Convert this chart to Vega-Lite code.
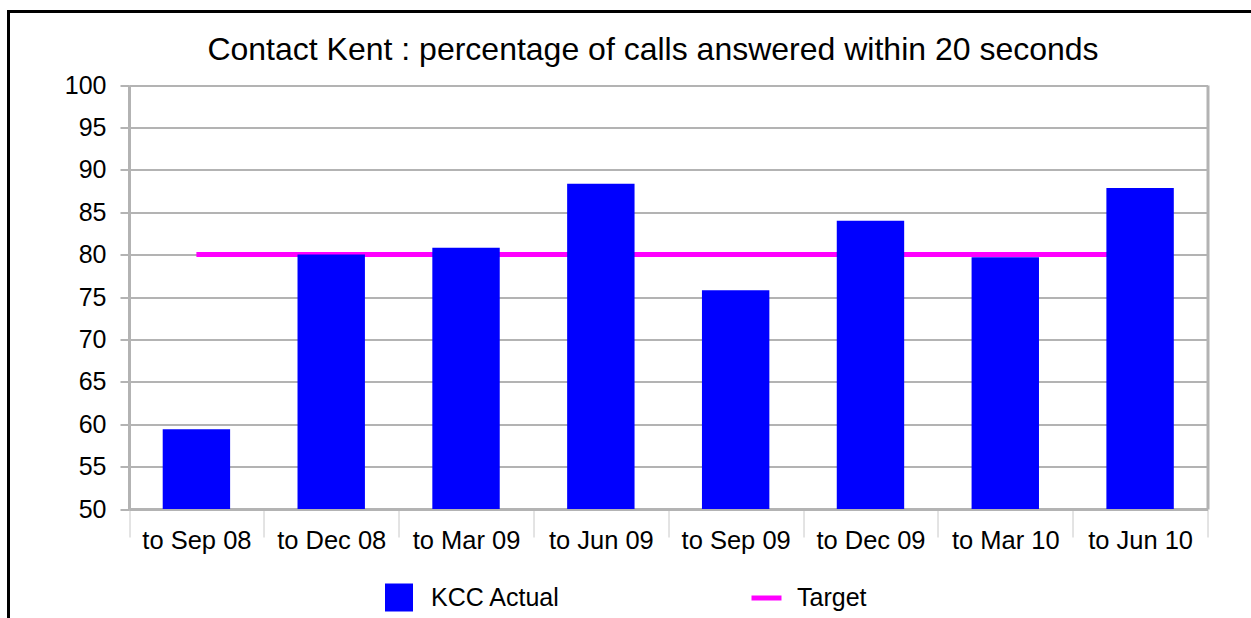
{
  "$schema": "https://vega.github.io/schema/vega-lite/v6.json",
  "width": 1289,
  "height": 700,
  "autosize": {"type": "none"},
  "padding": {"left": 8.5, "top": 11.5, "right": 0, "bottom": 0},
  "background": "white",
  "title": {
    "text": "Contact Kent : percentage of calls answered within 20 seconds",
    "fontSize": 32,
    "font": "Liberation Sans",
    "fontWeight": "normal",
    "color": "#000000",
    "anchor": "middle",
    "frame": "group",
    "baseline": "alphabetic",
    "offset": 0,
    "dy": 80.5
  },
  "config": {
    "font": "Liberation Sans",
    "view": {"stroke": "#000000", "strokeWidth": 3, "fill": "white"}
  },
  "data": {
    "values": [
      {"period": "to Sep 08", "actual": 59.4, "target": 80},
      {"period": "to Dec 08", "actual": 80.0, "target": 80},
      {"period": "to Mar 09", "actual": 80.8, "target": 80},
      {"period": "to Jun 09", "actual": 88.35, "target": 80},
      {"period": "to Sep 09", "actual": 75.8, "target": 80},
      {"period": "to Dec 09", "actual": 84.0, "target": 80},
      {"period": "to Mar 10", "actual": 79.7, "target": 80},
      {"period": "to Jun 10", "actual": 87.85, "target": 80}
    ]
  },
  "encoding": {
    "x": {
      "field": "period",
      "type": "nominal",
      "sort": null,
      "scale": {"range": [120.5, 1199], "paddingInner": 0, "paddingOuter": 0},
      "axis": {
        "title": null,
        "orient": "bottom",
        "offset": -202.5,
        "labelAngle": 0,
        "labelFontSize": 25.5,
        "labelColor": "#000000",
        "labelPadding": -9,
        "tickBand": "extent",
        "tickSize": 28,
        "tickWidth": 1,
        "tickColor": "#c8c8c8",
        "domainColor": "#b3b3b3",
        "domainWidth": 3,
        "grid": false
      }
    }
  },
  "layer": [
    {
      "mark": {"type": "line", "strokeWidth": 5},
      "encoding": {
        "y": {
          "field": "target",
          "type": "quantitative",
          "scale": {"domain": [50, 100], "range": [497.5, 73.5], "nice": false, "zero": false},
          "axis": {
            "title": null,
            "orient": "left",
            "offset": -120.5,
            "values": [50, 55, 60, 65, 70, 75, 80, 85, 90, 95, 100],
            "labelFontSize": 25,
            "labelColor": "#000000",
            "labelPadding": 14,
            "tickSize": 9,
            "tickWidth": 2,
            "tickColor": "#b3b3b3",
            "domainColor": "#b3b3b3",
            "domainWidth": 3,
            "grid": true,
            "gridColor": "#b3b3b3",
            "gridWidth": 2
          }
        },
        "stroke": {
          "datum": "Target",
          "scale": {"range": ["#ff00ff"]},
          "legend": {
            "title": null,
            "orient": "none",
            "legendX": 740.5,
            "legendY": 569,
            "symbolType": "stroke",
            "symbolSize": 900,
            "symbolStrokeWidth": 5,
            "labelFontSize": 25,
            "labelColor": "#000000",
            "labelOffset": 13
          }
        }
      }
    },
    {
      "mark": {"type": "bar", "fill": "#0000ff", "width": {"band": 0.5}},
      "encoding": {
        "y": {
          "field": "actual",
          "type": "quantitative",
          "axis": {
            "title": null,
            "orient": "right",
            "offset": -90,
            "labels": false,
            "ticks": false,
            "grid": false,
            "domainColor": "#b3b3b3",
            "domainWidth": 3
          }
        },
        "y2": {"datum": 50},
        "fill": {
          "datum": "KCC Actual",
          "scale": {"range": ["#0000ff"]},
          "legend": {
            "title": null,
            "orient": "none",
            "legendX": 376.5,
            "legendY": 572,
            "symbolType": "square",
            "symbolSize": 784,
            "symbolStrokeWidth": 0,
            "labelFontSize": 25,
            "labelColor": "#000000",
            "labelOffset": 18
          }
        }
      }
    }
  ],
  "resolve": {"axis": {"y": "independent"}}
}
